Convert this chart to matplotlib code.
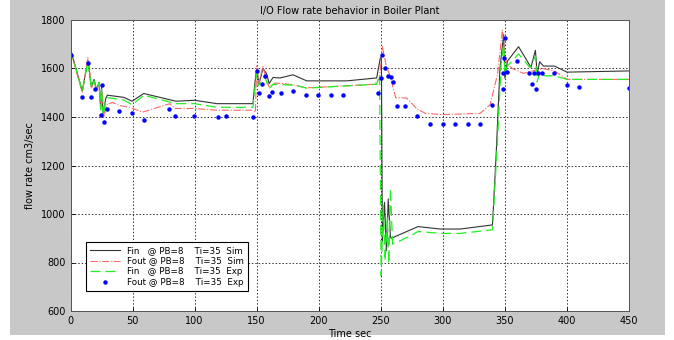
import matplotlib.pyplot as plt
from matplotlib.patches import Rectangle

# Fin @ PB=8 Ti=35 Sim
fin_sim_t = [0, 9.5, 14, 16.8, 19, 21, 23, 24.3, 25, 26.4, 28.3, 29.7, 43, 49.6, 59, 85, 100, 118, 147,
             148.7, 150, 151.9, 155.1, 158.1, 160, 163.2, 168.8, 179.3, 190.3, 222.6, 246.7, 249.5, 250.5,
             251.3, 253, 254.6, 256, 257.8, 258.5, 280, 298, 314, 340, 343, 346, 349, 350, 352, 361, 371,
             374.6, 376, 378, 381, 390, 400, 450]
fin_sim = [1680, 1507, 1635, 1525, 1555, 1513, 1543, 1440, 1525, 1405, 1475, 1490, 1481, 1465, 1497, 1465,
           1469, 1455, 1455, 1546, 1600, 1537, 1600, 1578, 1538, 1563, 1561, 1574, 1549, 1549, 1561, 1640,
           1650, 888, 1048, 849, 1062, 904, 900, 948, 938, 938, 955, 1250, 1600, 1740, 1560, 1630, 1690,
           1605, 1675, 1578, 1628, 1610, 1610, 1585, 1590]

# Fout @ PB=8 Ti=35 Sim
fout_sim_t = [0, 9.5, 14, 17, 19, 21, 23, 24.3, 25.5, 27, 29, 33.7, 40, 48, 58, 80, 84, 100, 118, 146,
              149, 150, 152, 155, 158, 160, 165, 172, 181, 190, 245, 249, 251.3, 254.7, 257, 262, 271, 279,
              286, 300, 330, 338, 344, 348, 350, 352, 356, 365, 380, 390, 400, 450]
fout_sim = [1675, 1500, 1645, 1520, 1545, 1510, 1530, 1430, 1500, 1400, 1450, 1460, 1447, 1439, 1420, 1455,
            1435, 1435, 1428, 1428, 1420, 1610, 1540, 1610, 1550, 1525, 1540, 1538, 1531, 1520, 1535, 1560,
            1690, 1604, 1578, 1480, 1478, 1434, 1415, 1410, 1415, 1450, 1575, 1760, 1650, 1618, 1600, 1580,
            1600, 1590, 1555, 1555]

# Fin @ PB=8 Ti=35 Exp
fin_exp_t = [0, 9.5, 14, 16.8, 19, 21, 23, 24.3, 25, 26.4, 28.3, 29.7, 43, 49.6, 59, 85, 100, 118, 147,
             150, 151, 156.5, 160, 163.2, 181, 190.3, 246.7, 249, 250.3, 252, 253.5, 255.3, 256.5, 257.8,
             259.5, 265, 275, 280, 298, 314, 340, 344, 347, 349, 350, 352, 361, 370, 374.6, 376, 378, 382,
             390, 400, 450]
fin_exp = [1680, 1505, 1630, 1520, 1550, 1510, 1540, 1430, 1520, 1400, 1470, 1480, 1470, 1450, 1490, 1455,
           1455, 1440, 1440, 1583, 1528, 1566, 1517, 1535, 1531, 1519, 1535, 1575, 745, 1034, 806, 986, 795,
           1107, 876, 888, 913, 928, 920, 920, 935, 1300, 1620, 1700, 1580, 1610, 1660, 1605, 1650, 1545,
           1585, 1570, 1570, 1555, 1555]

# Fout @ PB=8 Ti=35 Exp
fout_exp_t = [0, 9.5, 14, 16.3, 19.5, 25, 24.3, 27, 29.7, 39, 49.6, 59.2, 79.4, 84.2, 99.5, 118.9, 125.3,
              147.3, 150, 151.9, 154.3, 156.7, 160, 162.6, 169.4, 179.5, 189.8, 199.7, 209.7, 219.3, 247.5,
              250, 251.3, 253.4, 255.6, 258, 259.6, 262.8, 269.5, 279.5, 290, 300, 310, 320, 330, 339.4,
              348.3, 348.8, 349.6, 350, 352, 360, 369.5, 371.6, 373.5, 374.9, 377, 380, 389.6, 399.8,
              409.8, 450]
fout_exp = [1655, 1481, 1622, 1481, 1516, 1530, 1410, 1380, 1435, 1425, 1418, 1387, 1435, 1406, 1406, 1398,
            1406, 1400, 1590, 1498, 1535, 1570, 1487, 1505, 1498, 1508, 1490, 1490, 1491, 1491, 1498, 1560,
            1655, 1600, 1570, 1565, 1545, 1445, 1445, 1403, 1370, 1370, 1373, 1370, 1370, 1450, 1516, 1583,
            1645, 1726, 1585, 1630, 1580, 1538, 1580, 1515, 1580, 1580, 1580, 1530, 1525, 1520]

labels = ['Fin   @ PB=8    Ti=35  Sim', 'Fout @ PB=8    Ti=35  Sim',
          'Fin   @ PB=8    Ti=35  Exp', 'Fout @ PB=8    Ti=35  Exp']

fig = plt.figure(figsize=(6.74, 3.4), dpi=100, facecolor='white')
# grey matlab-style panel
fig.patches.append(Rectangle((10 / 674, 5 / 340), 655 / 674, 335 / 340, transform=fig.transFigure,
                             facecolor='#c8c8c8', edgecolor='none', zorder=-1))
ax = fig.add_axes([70.5 / 674, 1 - 311 / 340, 558.5 / 674, 291 / 340])

ax.plot(fin_sim_t, fin_sim, color='#333333', lw=0.8, label=labels[0])
ax.plot(fout_sim_t, fout_sim, color='#ff6666', lw=0.8, ls='-.', label=labels[1])
ax.plot(fin_exp_t, fin_exp, color='#22ee22', lw=0.9, ls=(0, (8, 4)), label=labels[2])
ax.plot(fout_exp_t, fout_exp, ls='none', marker='o', ms=2.2, color='#0000ff', label=labels[3])

ax.set_xlim(0, 450)
ax.set_ylim(600, 1800)
ax.set_xticks(range(0, 451, 50))
ax.set_yticks(range(600, 1801, 200))
ax.grid(True, color='#333333', ls=(0, (1.5, 2)), lw=0.7)
ax.tick_params(labelsize=7, length=3, direction='in', width=0.6)
for s in ax.spines.values():
    s.set_linewidth(0.7)
    s.set_color('#555555')

ax.set_title('I/O Flow rate behavior in Boiler Plant', fontsize=7, pad=4)
ax.set_xlabel('Time sec', fontsize=7, labelpad=2)
ax.set_ylabel('flow rate cm3/sec', fontsize=7, labelpad=4)

leg = ax.legend(loc='lower left', bbox_to_anchor=(0.02, 0.055), fontsize=6.3, frameon=True,
                fancybox=False, edgecolor='black', handlelength=3.5, borderpad=0.4,
                labelspacing=0.2, framealpha=1)
leg.get_frame().set_linewidth(0.8)

fig.savefig('out.png', dpi=100, facecolor='white')
